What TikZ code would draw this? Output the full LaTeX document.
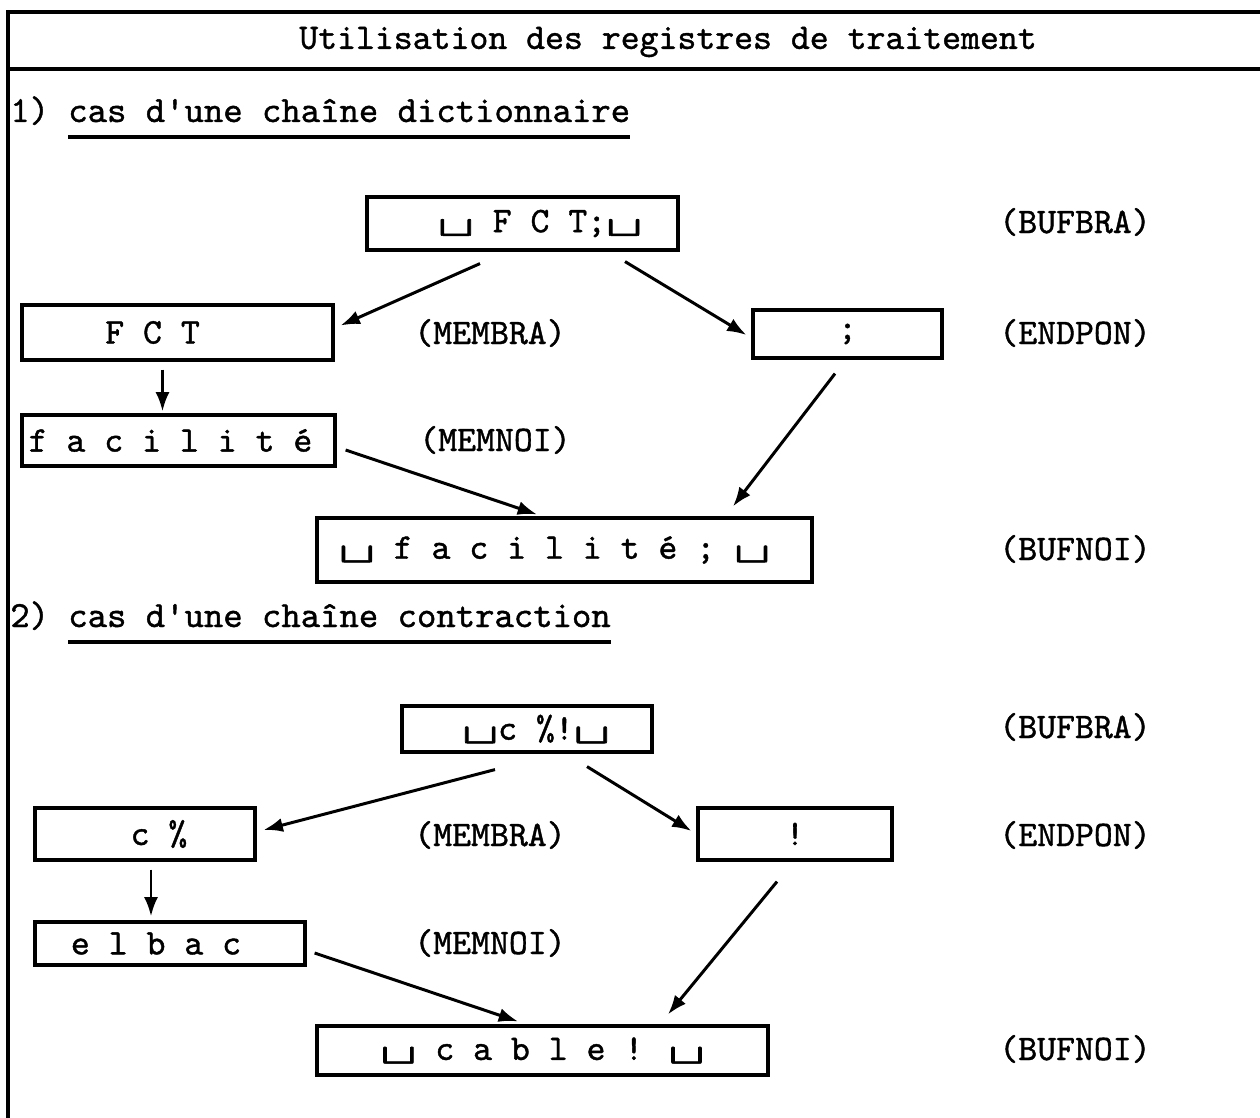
\documentclass[tikz,border=0pt]{standalone}
\usepackage{fontspec}
\usetikzlibrary{calc,arrows.meta}
\newfontfamily\tw{lmmono10-regular.otf}[FakeBold=1.1]
% blank symbol of the register contents, set wider than the plain glyph
\newcommand\blk{\raisebox{0.15ex}{\scalebox{1.9}[1.25]{␣}}}

\begin{document}
\begin{tikzpicture}[x=0.02cm,y=-0.02cm,
  every node/.style={font=\tw\fontsize{20.5}{24}\selectfont, inner sep=0pt},
  head/.style={font=\tw\fontsize{21}{24}\selectfont, anchor=base west},
  reg/.style 2 args={draw, line width=1.8pt, rectangle,
    minimum width=#1*0.02cm, minimum height=#2*0.02cm},
  lbl/.style={anchor=center},
  arr/.style={line width=1.7pt, -{Latex[length=11pt,width=8pt]}},
  rule/.style={line width=2pt},
  uline/.style={line width=2pt}]
\useasboundingbox (0,0) rectangle (1260,1118);

% frame and title band
\coordinate (tl) at (8,12);
\coordinate (tr) at (1260,12);
\coordinate (ml) at (8,69);
\coordinate (mr) at (1260,69);
\coordinate (bl) at (8,1118);
\draw[rule] (tr) -- (tl) -- (bl);
\draw[rule] (ml) -- (mr);
\node (title) at (668,42) {Utilisation des registres de traitement};

% ---------- part 1 ----------
\node[head] (n1) at (10,122) {1)};
\node[head] (h1) at (68,122) {cas d'une chaîne dictionnaire};
\draw[uline] ($(h1.base west)+(0,15)$) -- ($(h1.base east)+(0,15)$);

\node[reg={311}{53}] (bufbraA) at (522.5,223.5) {\hspace*{0.7cm}\blk{} F C T;\blk};
\node[reg={311}{55}] (membraA) at (177.5,332.5) {F C T\hspace*{1.0cm}};
\node[reg={189}{48}] (endponA) at (847.5,334) {;};
\node[reg={313}{51}] (memnoiA) at (178.5,440.5) {f a c i l i t é\hspace*{0.32cm}};
\node[reg={495}{64}] (bufnoiA) at (564.5,550) {\blk{} f a c i l i t é ; \blk\hspace*{0.4cm}};

\node[lbl] (lA1) at (1075,222) {(BUFBRA)};
\node[lbl] (lA2) at (490,333) {(MEMBRA)};
\node[lbl] (lA3) at (1075,333) {(ENDPON)};
\node[lbl] (lA4) at (495,440) {(MEMNOI)};
\node[lbl] (lA5) at (1075,549) {(BUFNOI)};

\draw[arr] ($(bufbraA.south)+(-42.5,12)$) -- ($(membraA.east)+(6,-7)$);
\draw[arr] ($(bufbraA.south)+(102.5,10)$) -- ($(endponA.west)+(-5,1)$);
\draw[arr] ($(membraA.south)+(-15,8)$) -- ($(memnoiA.north)+(-16,-2)$);
\draw[arr] ($(memnoiA.east)+(9,9.5)$) -- ($(bufnoiA.north)+(-27.5,-2)$);
\draw[arr] ($(endponA.south)+(-12.5,14)$) -- ($(bufnoiA.north)+(168.5,-10)$);

% ---------- part 2 ----------
\node[head] (n2) at (10,627) {2)};
\node[head] (h2) at (68,627) {cas d'une chaîne contraction};
\draw[uline] ($(h2.base west)+(0,15)$) -- ($(h2.base east)+(0,15)$);

\node[reg={250}{46}] (bufbraB) at (527,729) {\hspace*{0.36cm}\blk c \%!\blk};
\node[reg={220}{52}] (membraB) at (145,834) {\hspace*{0.56cm}c \%};
\node[reg={194}{52}] (endponB) at (795,834) {!};
\node[reg={270}{43}] (memnoiB) at (170,943.5) {e l b a c\hspace*{0.56cm}};
\node[reg={451}{49}] (bufnoiB) at (542.5,1050.5) {\blk{} c a b l e ! \blk};

\node[lbl] (lB1) at (1075,727) {(BUFBRA)};
\node[lbl] (lB2) at (490,835) {(MEMBRA)};
\node[lbl] (lB3) at (1075,835) {(ENDPON)};
\node[lbl] (lB4) at (490,943) {(MEMNOI)};
\node[lbl] (lB5) at (1075,1049) {(BUFNOI)};

\draw[arr] ($(bufbraB.south)+(-32,16)$) -- ($(membraB.east)+(7,-4)$);
\draw[arr] ($(bufbraB.south)+(60,13)$) -- ($(endponB.west)+(-5,-3)$);
\draw[arr] ($(membraB.south)+(6,8)$) -- ($(memnoiB.north)+(-19,-4)$);
\draw[arr] ($(memnoiB.east)+(8,9.5)$) -- ($(bufnoiB.north)+(-24.5,-3)$);
\draw[arr] ($(endponB.south)+(-18,20)$) -- ($(bufnoiB.north)+(125.5,-10)$);
\end{tikzpicture}
\end{document}
